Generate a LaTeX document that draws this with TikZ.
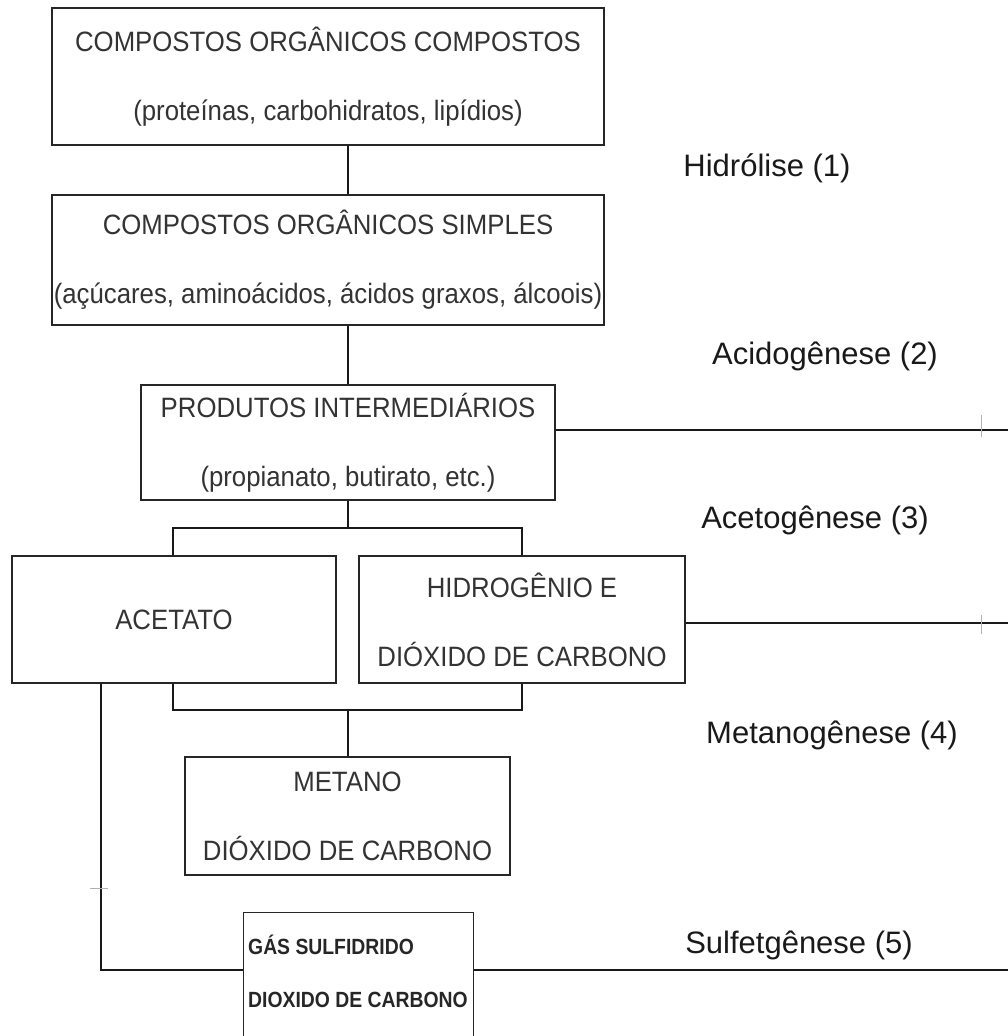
\documentclass[tikz,border=0pt]{standalone}
\usepackage{fontspec}
\setmainfont{Liberation Sans}
\newfontfamily\boxfont[FakeStretch=0.92]{Liberation Sans}
\newfontfamily\gasfont[FakeStretch=0.88]{Liberation Sans}
\usetikzlibrary{positioning}

\begin{document}
\begin{tikzpicture}[x=1pt, y=-1pt,
    caixa/.style={draw=black!85, line width=1.4pt, rectangle, align=center, text=black!80,
                  font=\boxfont\fontsize{28}{69}\selectfont, inner sep=0pt},
    etapa/.style={font=\fontsize{31}{36}\selectfont, text=black!90},
    linha/.style={line width=1.4pt, draw=black!90},
    marca/.style={line width=0.8pt, draw=black!30}]

    \useasboundingbox (0,0) rectangle (1008,1036);

    % caixas
    \node [caixa, minimum width=552pt, minimum height=137pt] (coc) at (328,76.5)
        {COMPOSTOS ORGÂNICOS COMPOSTOS\\(proteínas, carbohidratos, lipídios)};
    \node [caixa, minimum width=552pt, minimum height=130pt] (cos) at (328,260)
        {COMPOSTOS ORGÂNICOS SIMPLES\\(açúcares, aminoácidos, ácidos graxos, álcoois)};
    \node [caixa, minimum width=414pt, minimum height=115pt] (pi) at (348,442.5)
        {PRODUTOS INTERMEDIÁRIOS\\(propianato, butirato, etc.)};
    \node [caixa, minimum width=324pt, minimum height=127pt] (acet) at (174,619.5) {ACETATO};
    \node [caixa, minimum width=326pt, minimum height=127pt] (hid) at (522,619.5)
        {HIDROGÊNIO E\\DIÓXIDO DE CARBONO};
    \node [caixa, minimum width=325pt, minimum height=118pt] (met) at (347.5,816)
        {METANO\\DIÓXIDO DE CARBONO};
    \node [caixa, minimum width=230pt, minimum height=140pt, anchor=north west] (gas) at (243,912) {};
    \node [anchor=west, align=left, inner sep=0pt, text=black!85,
           font=\gasfont\bfseries\fontsize{22}{53}\selectfont] (gastxt) at (248,971)
        {GÁS SULFIDRIDO\\DIOXIDO DE CARBONO};

    % etapas
    \node [etapa] (e1) at (767,168) {Hidrólise (1)};
    \node [etapa] (e2) at (825,356) {Acidogênese (2)};
    \node [etapa] (e3) at (815,520) {Acetogênese (3)};
    \node [etapa] (e4) at (832,735) {Metanogênese (4)};
    \node [etapa] (e5) at (799,945) {Sulfetgênese (5)};

    % pontos auxiliares
    \coordinate (r1) at (1008,430);
    \coordinate (r2) at (1008,623);
    \coordinate (r3) at (1008,970);
    \coordinate (bl) at (173,528);
    \coordinate (br) at (522,528);
    \coordinate (sp) at (348,528);
    \coordinate (bb) at (348,710);
    \coordinate (sl) at (101,970);

    \path[linha]
        (coc.south -| pi) edge (cos.north -| pi)
        (cos.south -| pi) edge (pi.north)
        (pi.east |- r1) edge (r1)
        (pi.south) edge (sp)
        (hid.east |- r2) edge (r2)
        (bb) edge (met.north -| bb)
        (gas.east |- sl) edge (r3);
    \draw[linha] (acet.north -| bl) -- (bl) -- (br) -- (hid.north -| br);
    \draw[linha] (acet.south -| bl) -- (bl |- bb) -- (br |- bb) -- (hid.south -| br);
    \draw[linha] (acet.south -| sl) -- (sl) -- (sl -| gas.west);

    % marcas
    \draw[marca] (981,415) -- (981,437);
    \draw[marca] (981,615) -- (981,634);
    \draw[marca] (90,888) -- (108,888);
\end{tikzpicture}
\end{document}
